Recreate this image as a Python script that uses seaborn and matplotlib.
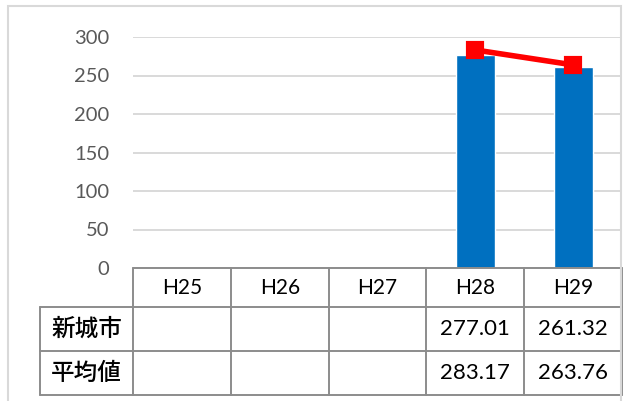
import numpy as np
import pandas as pd
import matplotlib
matplotlib.use("Agg")
import matplotlib.pyplot as plt
from matplotlib.patches import Rectangle
import seaborn as sns

# ---- data ----
years = ["H25", "H26", "H27", "H28", "H29"]
city_values = [np.nan, np.nan, np.nan, 277.01, 261.32]
avg_values = [np.nan, np.nan, np.nan, 283.17, 263.76]
row_labels = ["新城市", "平均値"]
y_ticks = [0, 50, 100, 150, 200, 250, 300]

sns.set_theme(style="white")
plt.rcParams["font.family"] = ["Lato", "Noto Sans CJK JP", "DejaVu Sans"]

df = pd.DataFrame({"year": years, "city": city_values, "avg": avg_values})

W, H = 623, 401
fig = plt.figure(figsize=(W / 100, H / 100), dpi=100)

# chart area border
fig.patches.append(Rectangle((8 / W, -0.05), (621 - 8) / W, 1.05 - 6 / H,
                             transform=fig.transFigure, fill=False,
                             edgecolor="#D9D9D9", lw=1.5, zorder=0))

# plot area
x0, x1 = 133, 622
y_top, y_zero = 37, 268
ax = fig.add_axes([x0 / W, 1 - y_zero / H, (x1 - x0) / W, (y_zero - y_top) / H])

sns.barplot(data=df, x="year", y="city", order=years, color="#0070C0",
            saturation=1, width=0.4, ax=ax, zorder=2)
sns.pointplot(data=df, x="year", y="avg", order=years, color="#FF0000",
              marker="s", markersize=10.5, linewidth=4, errorbar=None,
              ax=ax, zorder=3)
for ln in ax.lines:
    ln.set_linewidth(4)

ax.set_xlim(-0.5, 4.5)
ax.set_ylim(0, 300)
ax.set_yticks(y_ticks)
ax.set_yticklabels([str(t) for t in y_ticks], fontsize=14.5, color="#595959")
ax.tick_params(axis="y", length=0, pad=17)
ax.set_xticks([])
ax.set_xlabel("")
ax.set_ylabel("")
ax.grid(axis="y", color="#D9D9D9", lw=1.4, zorder=0)
ax.set_axisbelow(True)
for s in ax.spines.values():
    s.set_visible(False)
ax.set_facecolor("none")

# data table
tx0 = 40
tax = fig.add_axes([tx0 / W, 1 - 395 / H, (x1 - tx0) / W, (395 - 268) / H])
unit = (x1 - x0) / 5.0
left_edge = -0.5 - (x0 - tx0) / unit
tax.set_xlim(left_edge, 4.5)
tax.set_ylim(395, 268)
tax.axis("off")
rows_y = [268, 307, 351, 395]
lc = "#8C8C8C"
lw = 1.4
# horizontal lines
tax.plot([-0.5, 4.5], [rows_y[0]] * 2, color=lc, lw=lw, clip_on=False)
for yy in rows_y[1:]:
    tax.plot([left_edge, 4.5], [yy] * 2, color=lc, lw=lw, clip_on=False)
# vertical lines
for i in range(6):
    xx = -0.5 + i
    tax.plot([xx, xx], [rows_y[0], rows_y[-1]], color=lc, lw=lw, clip_on=False)
tax.plot([left_edge, left_edge], [rows_y[1], rows_y[-1]], color=lc, lw=lw, clip_on=False)

# header
for i, yr in enumerate(years):
    tax.text(i, (rows_y[0] + rows_y[1]) / 2, yr, ha="center", va="center",
             fontsize=15, color="black")
# rows
series = [city_values, avg_values]
for r, (lab, vals) in enumerate(zip(row_labels, series)):
    yc = (rows_y[r + 1] + rows_y[r + 2]) / 2
    tax.text((left_edge - 0.5) / 2, yc, lab, ha="center", va="center",
             fontsize=17, color="black", family=["Noto Sans CJK JP"],
             weight="medium")
    for i, v in enumerate(vals):
        if not np.isnan(v):
            tax.text(i, yc, f"{v:.2f}", ha="center", va="center",
                     fontsize=16, color="black")

fig.savefig("out.png", dpi=100)
